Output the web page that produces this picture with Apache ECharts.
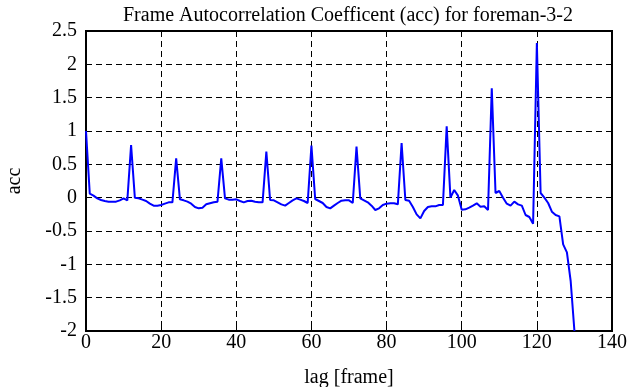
<!DOCTYPE html>
<html>
<head>
<meta charset="utf-8">
<script src="https://cdn.jsdelivr.net/npm/echarts@6/dist/echarts.min.js"></script>
<style>
html,body{margin:0;padding:0;background:#fff;}
#chart{width:630px;height:387px;}
</style>
</head>
<body>
<div id="chart"></div>
<script>
// lag values (frames)
const lags = [];
for (let i = 0; i <= 130; i++) lags.push(i);

// autocorrelation coefficient values
const accValues = [
  1.0, 0.06, 0.03, -0.01, -0.035, -0.05, -0.06, -0.06, -0.06, -0.04,
  -0.01, -0.04, 0.79, 0.0, -0.01, -0.03, -0.05, -0.09, -0.12, -0.12,
  -0.11, -0.09, -0.07, -0.07, 0.59, -0.025, -0.04, -0.06, -0.09, -0.14,
  -0.16, -0.15, -0.1, -0.085, -0.07, -0.06, 0.59, -0.01, -0.03, -0.03,
  -0.025, -0.05, -0.07, -0.05, -0.045, -0.06, -0.07, -0.07, 0.69, -0.035,
  -0.04, -0.07, -0.1, -0.12, -0.08, -0.04, -0.01, -0.03, -0.05, -0.08,
  0.78, -0.02, -0.05, -0.08, -0.14, -0.16, -0.12, -0.08, -0.045, -0.04,
  -0.04, -0.08, 0.765, -0.01, -0.04, -0.07, -0.12, -0.185, -0.16, -0.11,
  -0.09, -0.085, -0.085, -0.1, 0.82, -0.035, -0.045, -0.14, -0.25, -0.31,
  -0.2, -0.14, -0.13, -0.13, -0.11, -0.11, 1.07, 0.0, 0.115, 0.03,
  -0.18, -0.175, -0.15, -0.12, -0.085, -0.135, -0.13, -0.185, 1.64, 0.07,
  0.1, 0.0, -0.09, -0.12, -0.06, -0.1, -0.12, -0.26, -0.29, -0.39,
  2.32, 0.07, 0.0, -0.08, -0.21, -0.26, -0.28, -0.7, -0.82, -1.25,
  -2.0
];

const titleText = 'Frame Autocorrelation Coefficent (acc) for foreman-3-2';
const xName = 'lag [frame]';
const yName = 'acc';
const xMin = 0, xMax = 140, xStep = 20;
const yMin = -2, yMax = 2.5, yStep = 0.5;

const font = "'Liberation Serif', 'Times New Roman', serif";
const chart = echarts.init(document.getElementById('chart'), null, {renderer: 'canvas'});

const seriesData = lags.map((l, i) => [l, accValues[i]]);

const gridLine = {show: true, lineStyle: {color: '#000', type: [6, 4], width: 1}};
const inTick = {show: true, inside: true, length: 5, lineStyle: {color: '#000', width: 1}};

chart.setOption({
  animation: false,
  backgroundColor: '#fff',
  title: {
    text: titleText,
    left: 118,
    top: 1,
    textStyle: {fontFamily: font, fontSize: 20, fontWeight: 'normal', color: '#000'}
  },
  grid: {
    left: 86, right: 18, top: 31, bottom: 56,
    containLabel: false, outerBoundsMode: 'none',
    show: true, borderColor: '#000', borderWidth: 2, backgroundColor: 'transparent'
  },
  xAxis: [{
    type: 'value', min: xMin, max: xMax, interval: xStep,
    position: 'bottom',
    name: xName, nameLocation: 'middle', nameGap: 37,
    nameTextStyle: {fontFamily: font, fontSize: 20, color: '#000'},
    axisLine: {show: true, onZero: false, lineStyle: {color: '#000', width: 2}},
    axisTick: inTick,
    axisLabel: {fontFamily: font, fontSize: 20, color: '#000', margin: 2},
    splitLine: gridLine
  }, {
    type: 'value', min: xMin, max: xMax, interval: xStep,
    position: 'top',
    axisLine: {show: true, onZero: false, lineStyle: {color: '#000', width: 2}},
    axisTick: inTick,
    axisLabel: {show: false},
    splitLine: {show: false}
  }],
  yAxis: [{
    type: 'value', min: yMin, max: yMax, interval: yStep,
    position: 'left',
    name: yName, nameLocation: 'middle', nameGap: 61, nameRotate: 90,
    nameTextStyle: {fontFamily: font, fontSize: 20, color: '#000'},
    axisLine: {show: true, onZero: false, lineStyle: {color: '#000', width: 2}},
    axisTick: inTick,
    axisLabel: {fontFamily: font, fontSize: 20, color: '#000', margin: 9},
    splitLine: gridLine
  }, {
    type: 'value', min: yMin, max: yMax, interval: yStep,
    position: 'right',
    axisLine: {show: true, onZero: false, lineStyle: {color: '#000', width: 2}},
    axisTick: inTick,
    axisLabel: {show: false},
    splitLine: {show: false}
  }],
  series: [{
    type: 'line',
    data: seriesData,
    xAxisIndex: 0, yAxisIndex: 0,
    showSymbol: false,
    clip: true,
    lineStyle: {color: '#0000ff', width: 2},
    itemStyle: {color: '#0000ff'}
  }]
});
</script>
</body>
</html>
